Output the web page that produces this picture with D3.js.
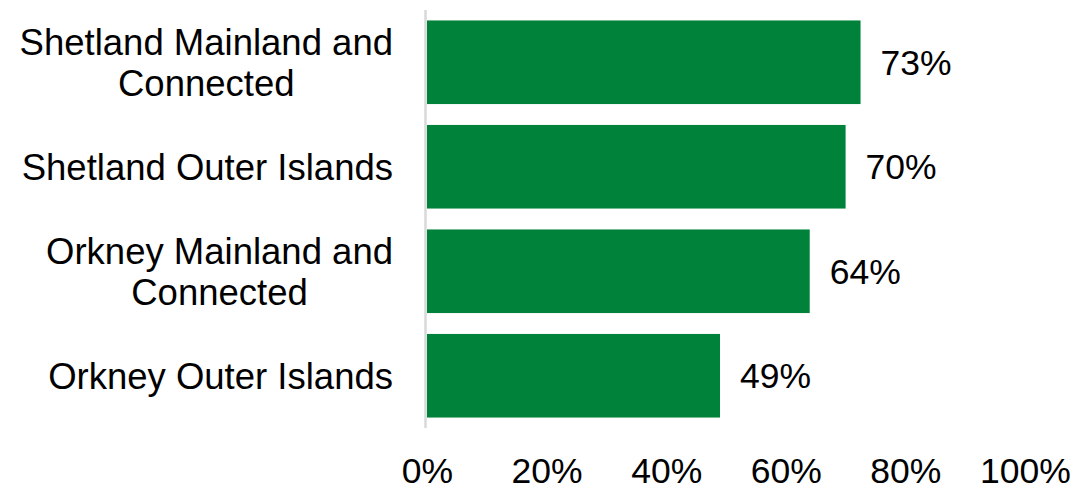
<!DOCTYPE html>
<html>
<head>
<meta charset="utf-8">
<script src="https://cdn.jsdelivr.net/npm/d3@7"></script>
<style>
  html, body { margin: 0; padding: 0; background: #fff; }
  svg { display: block; }
  text { font-family: "Liberation Sans", Arial, sans-serif; fill: #000; }
</style>
</head>
<body>
<svg id="chart" width="1084" height="500"></svg>
<script>
const categories = [
  ["Shetland Mainland and", "Connected"],
  ["Shetland Outer Islands"],
  ["Orkney Mainland and", "Connected"],
  ["Orkney Outer Islands"]
];
const values = [72.5, 70, 64, 49];
const tickValues = [0, 20, 40, 60, 80, 100];

const svg = d3.select("#chart");
const W = 1084, H = 500;
const margin = { left: 427, right: 59, top: 10, bottom: 72 };

const x = d3.scaleLinear().domain([0, 100]).range([margin.left, W - margin.right]);
const keys = categories.map((c, i) => i);
const y = d3.scaleBand().domain(keys).range([margin.top, H - margin.bottom])
  .paddingInner(0.2).paddingOuter(0.1);

// bars
svg.append("g").selectAll("rect").data(values).join("rect")
  .attr("x", x(0))
  .attr("y", (d, i) => y(i))
  .attr("width", d => x(d) - x(0))
  .attr("height", y.bandwidth())
  .attr("fill", "#00823b");

// vertical axis line
svg.append("line")
  .attr("x1", x(0) - 1.5).attr("x2", x(0) - 1.5)
  .attr("y1", margin.top).attr("y2", H - margin.bottom)
  .attr("stroke", "#d9d9d9").attr("stroke-width", 2.5);

// category labels: lines centered within a block right-aligned at 393
const catG = svg.append("g");
const rightEdge = 393;
categories.forEach((lines, i) => {
  const cy = y(i) + y.bandwidth() / 2;
  const lh = 41;
  const t = catG.append("text")
    .attr("text-anchor", "middle")
    .attr("font-size", 36.5);
  const spans = lines.map((ln, j) => {
    const off = (j - (lines.length - 1) / 2) * lh;
    return t.append("tspan").attr("y", cy + off).attr("dy", "0.355em").text(ln);
  });
  const maxW = d3.max(spans, s => s.node().getComputedTextLength());
  spans.forEach(s => s.attr("x", rightEdge - maxW / 2));
});

// value labels
svg.append("g").selectAll("text").data(values).join("text")
  .attr("x", d => x(d) + 20)
  .attr("y", (d, i) => y(i) + y.bandwidth() / 2)
  .attr("dy", "0.355em")
  .attr("font-size", 35.5)
  .text(d => Math.round(d) + "%");

// x axis tick labels
const xAxis = d3.axisBottom(x).tickValues(tickValues).tickSize(0).tickPadding(0)
  .tickFormat(d => d + "%");
const ax = svg.append("g").attr("transform", `translate(0, 483)`).call(xAxis);
ax.select(".domain").remove();
ax.selectAll("text")
  .attr("y", 0).attr("dy", 0)
  .attr("font-size", 35.5)
  .attr("font-family", "Liberation Sans, Arial, sans-serif")
  .attr("fill", "#000");
</script>
</body>
</html>
